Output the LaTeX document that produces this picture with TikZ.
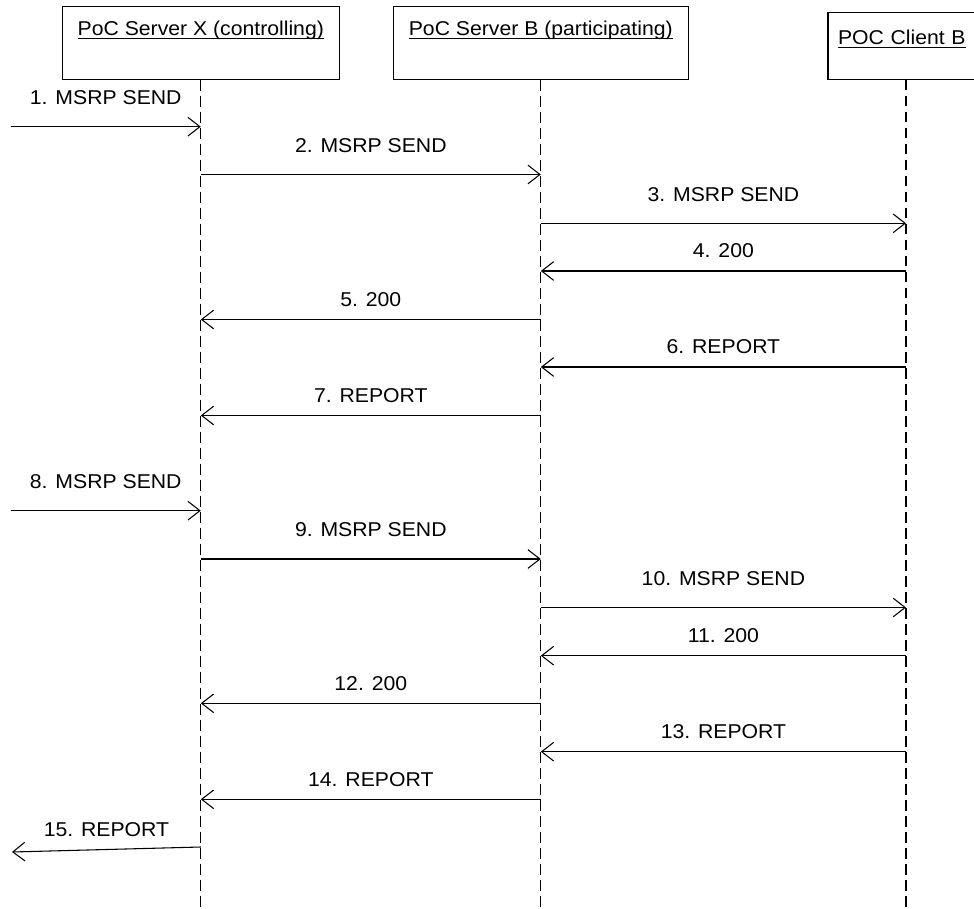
\documentclass[tikz,border=0pt]{standalone}
\usepackage{fontspec}
\setmainfont{Liberation Sans}[FakeStretch=1.06]
\usetikzlibrary{arrows.meta,positioning}
\newcommand\headul[1]{\setbox0\hbox{#1}\rlap{\rule[-2.5pt]{\wd0}{0.8pt}}\box0}
\tikzset{
  entity/.style   = {draw, line width=0.8pt, inner xsep=7.5pt, inner ysep=11pt,
                     text height=10.5pt, text depth=22pt,
                     font=\fontsize{15}{18}\selectfont},
  lifeline/.style = {line width=0.8pt, dash pattern=on 8pt off 4pt},
  msg/.style      = {-{Straight Barb[length=9pt,width=14pt]}, line width=0.8pt},
  sendlbl/.style  = {midway, yshift=21.75pt, inner sep=0pt,
                     font=\fontsize{15}{18}\selectfont},
  replylbl/.style = {midway, yshift=15pt, inner sep=0pt,
                     font=\fontsize{15}{18}\selectfont},
}
\begin{document}
\begin{tikzpicture}[x=0.75pt, y=-0.75pt]
\useasboundingbox (0,0) rectangle (974,909);
\clip (0,0) rectangle (974,909);
\node[entity, minimum width=208pt] (srvx) at (200.8,43) {\headul{PoC Server X (controlling)}};
\node[entity, minimum width=221.25pt] (srvb) at (540.8,43) {\headul{PoC Server B (participating)}};
\node[entity, text width=102pt, align=left, text height=13pt, text depth=15.25pt] (clib) at (906,45.8) {\headul{POC Client B}};
\coordinate (srvxend) at (200.8,909);
\coordinate (srvbend) at (540.8,909);
\coordinate (clibend) at (906,909);
\draw[lifeline] (srvx.south) -- (srvxend);
\draw[lifeline] (srvb.south) -- (srvbend);
\draw[lifeline] (clib.south) -- (clibend);
% points on the lifelines
\coordinate (in1) at (10.7,126.7);  \coordinate (x1) at (200.8,126.7);
\coordinate (x2) at (200.8,174.5);  \coordinate (b2) at (540.8,174.5);
\coordinate (b3) at (540.8,223.3);  \coordinate (c3) at (906,223.3);
\coordinate (c4) at (906,271);      \coordinate (b4) at (540.8,271);
\coordinate (b5) at (540.8,319.5);  \coordinate (x5) at (200.8,319.5);
\coordinate (c6) at (906,367);      \coordinate (b6) at (540.8,367);
\coordinate (b7) at (540.8,415.5);  \coordinate (x7) at (200.8,415.5);
\coordinate (in8) at (10.7,510.7);  \coordinate (x8) at (200.8,510.7);
\coordinate (x9) at (200.8,559);    \coordinate (b9) at (540.8,559);
\coordinate (b10) at (540.8,607.5); \coordinate (c10) at (906,607.5);
\coordinate (c11) at (906,655.7);   \coordinate (b11) at (540.8,655.7);
\coordinate (b12) at (540.8,703.3); \coordinate (x12) at (200.8,703.3);
\coordinate (c13) at (906,751.7);   \coordinate (b13) at (540.8,751.7);
\coordinate (b14) at (540.8,799.3); \coordinate (x14) at (200.8,799.3);
\coordinate (x15) at (200.8,847);   \coordinate (out15) at (12,852);
% messages
\draw[msg] (in1) to node[sendlbl] {1. MSRP SEND} (x1);
\draw[msg] (x2) to node[sendlbl] {2. MSRP SEND} (b2);
\draw[msg] (b3) to node[sendlbl] {3. MSRP SEND} (c3);
\draw[msg] (c4) to node[replylbl] {4. 200} (b4);
\draw[msg] (b5) to node[replylbl] {5. 200} (x5);
\draw[msg] (c6) to node[replylbl] {6. REPORT} (b6);
\draw[msg] (b7) to node[replylbl] {7. REPORT} (x7);
\draw[msg] (in8) to node[sendlbl] {8. MSRP SEND} (x8);
\draw[msg] (x9) to node[sendlbl] {9. MSRP SEND} (b9);
\draw[msg] (b10) to node[sendlbl] {10. MSRP SEND} (c10);
\draw[msg] (c11) to node[replylbl] {11. 200} (b11);
\draw[msg] (b12) to node[replylbl] {12. 200} (x12);
\draw[msg] (c13) to node[replylbl] {13. REPORT} (b13);
\draw[msg] (b14) to node[replylbl] {14. REPORT} (x14);
\draw[msg] (x15) to node[replylbl] {15. REPORT} (out15);
\end{tikzpicture}
\end{document}
